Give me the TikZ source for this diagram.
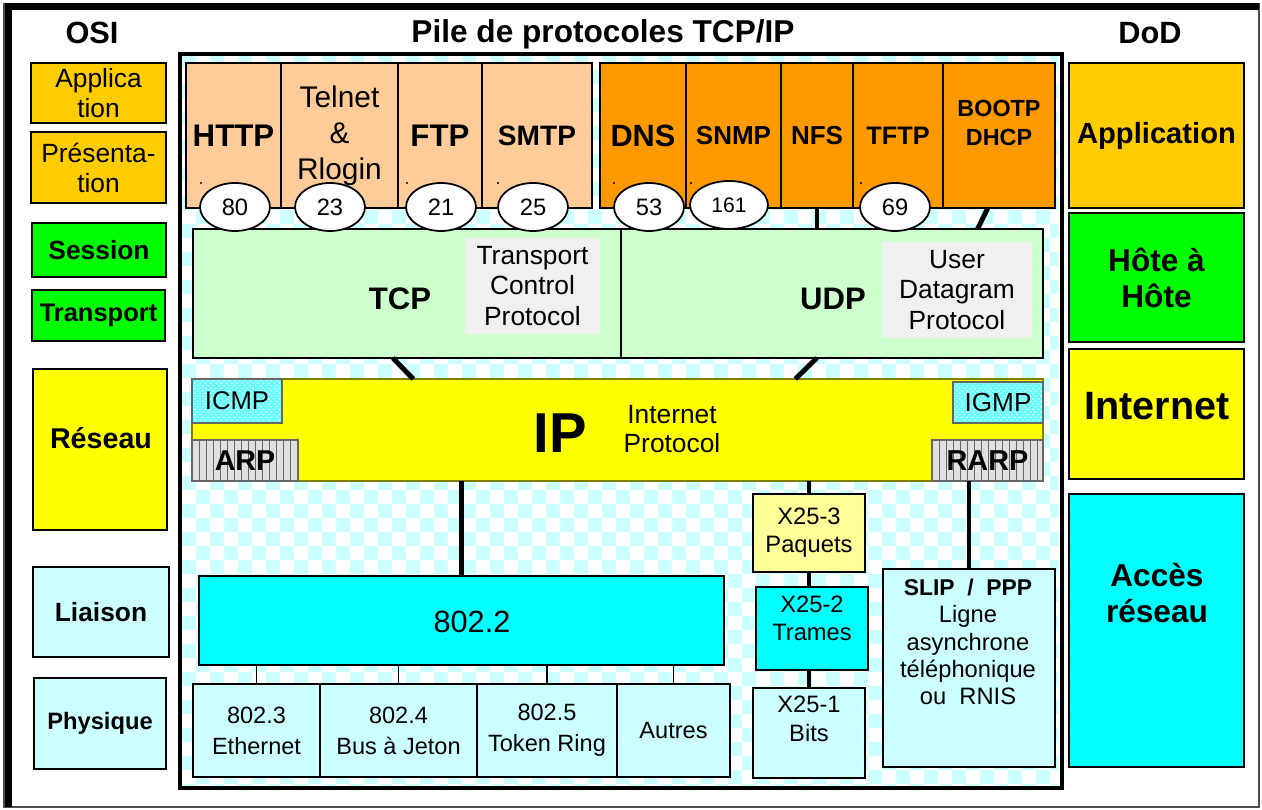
\documentclass[tikz,border=0pt]{standalone}
\usepackage{fontspec}
\setmainfont{Liberation Sans}
\usetikzlibrary{calc,patterns,shapes.geometric}
\definecolor{peach}{HTML}{FFCC99}
\definecolor{orng}{HTML}{FF9900}
\definecolor{gold}{HTML}{FFCC00}
\definecolor{osigreen}{HTML}{00FF00}
\definecolor{yel}{HTML}{FFFF00}
\definecolor{paleyel}{HTML}{FFFF99}
\definecolor{cya}{HTML}{00FFFF}
\definecolor{palecyan}{HTML}{CCFFFF}
\definecolor{palegreen}{HTML}{CCFFCC}
\definecolor{olivebd}{HTML}{7F7F00}
\newcommand{\fsz}[2]{\fontsize{#1}{#2}\selectfont}

\begin{document}
\begin{tikzpicture}[
    x=0.02cm, y=-0.02cm,
    box/.style={draw=black,line width=1.4pt,inner sep=0pt,outer sep=0pt,align=center,anchor=north west},
    wh/.style n args={2}{minimum width=#1*0.02cm,minimum height=#2*0.02cm},
    port/.style={ellipse,draw=black,line width=1pt,fill=white,minimum width=1.4cm,
                 minimum height=0.96cm,inner sep=0pt,font=\fsz{13.5}{16}},
    link/.style={line width=2.8pt},
    thinlink/.style={line width=0.6pt},
    title/.style={font=\fsz{17.5}{21}\bfseries},
    desc/.style={fill=black!6,draw=none,font=\fsz{15}{17.4}},
    dots/.style={preaction={fill=cya!60},pattern=crosshatch dots,pattern color=white},
    stripes/.style={fill=black!12,path picture={
        \foreach \i in {1,...,17}
          \draw[black!60,line width=0.5pt]
            ([xshift=\i*0.14cm]path picture bounding box.north west) --
            ([xshift=\i*0.14cm]path picture bounding box.south west);}}
]
\useasboundingbox (0,0) rectangle (1262,810);

% outer frame
\draw[black!70,line width=0.8pt] (4,4) rectangle (1259,807);
\draw[line width=4pt] (8.5,807) -- (8.5,6.5) -- (1259,6.5);

% checkered background of the TCP/IP stack
\begin{scope}
  \clip (182,56) rectangle (1058,786);
  \foreach \r in {0,...,52} {
    \pgfmathsetmacro{\ph}{mod(\r,2)*0.28}
    \draw[palecyan,line width=0.28cm,dash pattern=on 0.28cm off 0.28cm,dash phase=\ph cm]
      (182,{63+14*\r}) -- (1058,{63+14*\r});
  }
\end{scope}
\draw[line width=2.8pt] (180,54) rectangle (1062,788);

% titles
\node[title] (tosi) at (92,33) {OSI};
\node[title,font=\fsz{18}{22}\bfseries,anchor=base] (tpile) at (603,43) {Pile de protocoles TCP/IP};
\node[title] (tdod) at (1150,33) {DoD};

% OSI layers
\node[box,fill=gold,font=\fsz{15}{17},wh={135}{60}] (osiapp) at (31,63) {Applica\\tion};
\node[box,fill=gold,font=\fsz{15}{17},wh={135}{71}] (osipre) at (31,132) {Présenta-\\tion};
\node[box,fill=osigreen,font=\fsz{15}{17}\bfseries,wh={134}{54}] (osises) at (32,223) {Session};
\node[box,fill=osigreen,font=\fsz{14.5}{17}\bfseries,wh={133}{51}] (ositra) at (32,290) {Transport};
\node[box,fill=yel,wh={134}{161}] (osires) at (33,369) {};
\node[font=\fsz{16.3}{19}\bfseries] (tres) at (101,438) {Réseau};
\node[box,fill=palecyan,font=\fsz{15}{17}\bfseries,wh={136}{90}] (osilia) at (33,567) {Liaison};
\node[box,fill=palecyan,font=\fsz{13.5}{16}\bfseries,wh={132}{91}] (osiphy) at (34,678) {Physique};

% DoD layers
\node[box,fill=gold,font=\fsz{16.6}{19}\bfseries,wh={175}{145}] (dodapp) at (1069,63) {Application};
\node[box,fill=osigreen,font=\fsz{18}{20.5}\bfseries,wh={175}{129}] (dodhote) at (1069,213) {Hôte à\\Hôte};
\node[box,fill=yel,wh={175}{130}] (dodint) at (1069,349) {};
\node[font=\fsz{22.5}{26}\bfseries] (tint) at (1157,406) {Internet};
\node[box,fill=cya,wh={175}{273}] (dodacc) at (1069,494) {};
\node[font=\fsz{18}{20.5}\bfseries,align=center] (tacc) at (1157,593) {Accès\\réseau};

% application protocols
\node[box,fill=peach,font=\fsz{17.8}{21}\bfseries,wh={95}{145}] (http) at (186,63) {HTTP};
\node[box,fill=peach,font=\fsz{17}{20.5},wh={117}{145}] (telnet) at (281,63) {Telnet\\\&\\Rlogin};
\node[box,fill=peach,font=\fsz{17.8}{21}\bfseries,wh={84}{145}] (ftp) at (398,63) {FTP};
\node[box,fill=peach,font=\fsz{16}{19}\bfseries,wh={110}{145}] (smtp) at (482,63) {SMTP};
\node[box,fill=orng,font=\fsz{17.5}{21}\bfseries,wh={86}{145}] (dns) at (600,63) {DNS};
\node[box,fill=orng,font=\fsz{14.8}{18}\bfseries,wh={95}{145}] (snmp) at (686,63) {SNMP};
\node[box,fill=orng,font=\fsz{14.8}{18}\bfseries,wh={72}{145}] (nfs) at (781,63) {NFS};
\node[box,fill=orng,font=\fsz{14.4}{18}\bfseries,wh={90}{145}] (tftp) at (853,63) {TFTP};
\node[box,fill=orng,wh={112}{145}] (bootp) at (943,63) {};
\node[font=\fsz{13.3}{16}\bfseries,align=center] (tbootp) at (999,123) {BOOTP\\DHCP};
\foreach \x in {201,407,498,614,691,861}
  \fill (\x,183) circle[radius=1.2];

% transport
\node[box,fill=palegreen,wh={428}{129}] (tcp) at (193,229) {};
\node[box,fill=palegreen,wh={422}{129}] (udp) at (621,229) {};
\node[font=\fsz{17.7}{21}\bfseries] (ttcp) at (400,299) {TCP};
\node[font=\fsz{17.7}{21}\bfseries] (tudp) at (833,299) {UDP};
\node[box,desc,wh={135}{96}] (tcpdesc) at (465,238) {Transport\\Control\\Protocol};
\node[box,desc,wh={150}{96}] (udpdesc) at (882,242) {User\\Datagram\\Protocol};

\draw[link] (nfs.south) -- (nfs.south |- udp.north);
\draw[link] ($(bootp.south west)!0.4!(bootp.south east)$) -- ($(udp.north west)!0.845!(udp.north east)$);

% well-known ports
\node[port] (p80) at (235,207) {80};
\node[port] (p23) at (330,207) {23};
\node[port] (p21) at (441,207) {21};
\node[port] (p25) at (533,207) {25};
\node[port] (p53) at (649,207) {53};
\node[port,minimum width=1.56cm,font=\fsz{12}{14}] (p161) at (729,205) {161};
\node[port] (p69) at (895,207) {69};

% internet layer
\node[box,line width=0.8pt,draw=olivebd,fill=yel,wh={851}{102}] (ip) at (192,379) {};
\node[font=\fsz{32}{36}\bfseries] (tip) at (560,433) {IP};
\node[font=\fsz{15}{17},align=center] (tipdesc) at (672,429) {Internet\\Protocol};
\node[box,line width=0.6pt,draw=black!60,dots,font=\fsz{14.6}{17},wh={90}{44}] (icmp) at (192,379) {ICMP};
\node[box,line width=0.6pt,draw=black!60,stripes,font=\fsz{16.3}{19}\bfseries,wh={106}{41}] (arp) at (192,440) {ARP};
\node[box,line width=0.6pt,draw=black!60,dots,font=\fsz{14.9}{17},wh={90}{41}] (igmp) at (953,382) {IGMP};
\node[box,line width=0.6pt,draw=black!60,stripes,font=\fsz{16.4}{19}\bfseries,wh={111}{41}] (rarp) at (932,440) {RARP};

\draw[link] ($(tcp.south west)!0.467!(tcp.south east)$) -- ($(ip.north west)!0.26!(ip.north east)$);
\draw[link] ($(udp.south west)!0.464!(udp.south east)$) -- ($(ip.north west)!0.709!(ip.north east)$);

% network access
\node[box,fill=cya,wh={525}{89}] (l8022) at (199,576) {};
\node[font=\fsz{17.5}{21}] (t8022) at (472,622) {802.2};
\node[box,fill=palecyan,font=\fsz{13.4}{17.6},wh={127}{93}] (e3) at (193,684) {802.3\\Ethernet};
\node[box,fill=palecyan,font=\fsz{13.4}{17.6},wh={157}{93}] (e4) at (320,684) {802.4\\Bus à Jeton};
\node[box,fill=palecyan,font=\fsz{13.4}{17.6},wh={140}{93}] (e5) at (477,684) {802.5\\Token Ring};
\node[box,fill=palecyan,font=\fsz{13.4}{17.6},wh={113}{93}] (autres) at (617,684) {Autres};

\node[box,fill=paleyel,font=\fsz{13.5}{16},wh={112}{78}] (x253) at (753,494) {X25-3\\Paquets};
\node[box,fill=cya,wh={112}{83}] (x252) at (756,587) {};
\node[font=\fsz{13.5}{16},align=center] (tx252) at (812,618) {X25-2\\Trames};
\node[box,fill=palecyan,wh={112}{90}] (x251) at (753,688) {};
\node[font=\fsz{13.5}{16.5},align=center] (tx251) at (809,719) {X25-1\\Bits};

\node[box,fill=palecyan,wh={172}{198}] (slip) at (883,569) {};
\node[font=\fsz{13.5}{15.6},align=center] (tslip) at (968,642)
  {{\bfseries\fsz{13}{15.6}SLIP\ \ /\ \ PPP}\\Ligne\\asynchrone\\téléphonique\\ou\ \ RNIS};

\draw[link] (l8022.north) -- (l8022.north |- ip.south);
\draw[link] (x253.north) -- (x253.north |- ip.south);
\draw[link] (x253.south) -- (x253.south |- x252.north);
\draw[link] (x251.north) -- (x251.north |- x252.south);
\draw[link] (slip.north) -- (slip.north |- rarp.south);
\foreach \n in {e3,e4,e5,autres}
  \draw[thinlink] (\n.north) -- (\n.north |- l8022.south);
\end{tikzpicture}
\end{document}
